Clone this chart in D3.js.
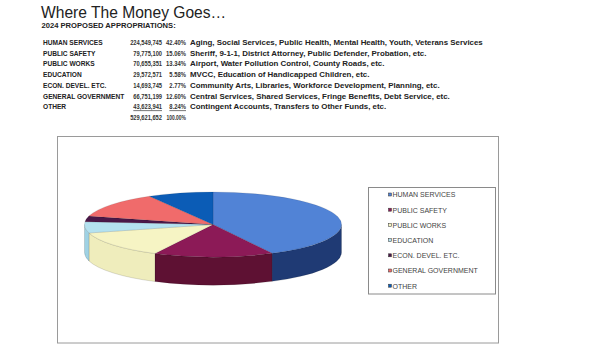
<!DOCTYPE html>
<html>
<head>
<meta charset="utf-8">
<script src="https://cdn.jsdelivr.net/npm/d3@7/dist/d3.min.js"></script>
<style>
  html, body { margin: 0; padding: 0; background: #fff; }
  svg { display: block; font-family: "Liberation Sans", Arial, sans-serif; }
</style>
</head>
<body>
<svg id="chart" width="600" height="351"></svg>
<script>
// ---- data ----
const categories = ["HUMAN SERVICES", "PUBLIC SAFETY", "PUBLIC WORKS", "EDUCATION",
                    "ECON. DEVEL. ETC.", "GENERAL GOVERNMENT", "OTHER"];
const amounts = [224549745, 79775100, 70655351, 29572571, 14693745, 66751199, 43623941];
const percentLabels = ["42.40%", "15.06%", "13.34%", "5.58%", "2.77%", "12.60%", "8.24%"];
const descriptions = [
  "Aging, Social Services, Public Health, Mental Health, Youth, Veterans Services",
  "Sheriff, 9-1-1, District Attorney, Public Defender, Probation, etc.",
  "Airport, Water Pollution Control, County Roads, etc.",
  "MVCC, Education of Handicapped Children, etc.",
  "Community Arts, Libraries, Workforce Development, Planning, etc.",
  "Central Services, Shared Services, Fringe Benefits, Debt Service, etc.",
  "Contingent Accounts, Transfers to Other Funds, etc."
];
const totalLabel = "529,621,652";
const totalPercent = "100.00%";
const topColors  = ["#5183d6", "#8c1a57", "#f6f4c4", "#b4e2f0", "#4a1848", "#f06b6b", "#0b5cb6"];
const sideColors = ["#1f3a74", "#5e1133", "#efedbc", "#9fd2e4", "#3a1238", "#c85050", "#083f80"];

const svg = d3.select("#chart");
const fmt = d3.format(",");

// ---- title ----
svg.append("text").attr("x", 41).attr("y", 17.5)
  .attr("font-size", 15.6).attr("fill", "#222").text("Where The Money Goes\u2026");
svg.append("text").attr("x", 41.5).attr("y", 28)
  .attr("font-size", 7.6).attr("font-weight", "bold").attr("fill", "#222")
  .text("2024 PROPOSED APPROPRIATIONS:");

// ---- table ----
const rowY = d3.scaleLinear().domain([0, 1]).range([44.8, 55.56]);
const tbl = svg.append("g").attr("font-size", 6.6).attr("font-weight", "bold").attr("fill", "#222");
const names = tbl.append("g");
const nums = tbl.append("g").attr("transform", "translate(162,0) scale(0.87,1)");
const pcts = tbl.append("g").attr("transform", "translate(186,0) scale(0.89,1)");
const descs = tbl.append("g").attr("transform", "translate(190,0) scale(1.2,1)");
const last = categories.length - 1;
categories.forEach((c, i) => {
  const y = rowY(i);
  names.append("text").attr("x", 43).attr("y", y).text(c);
  nums.append("text").attr("x", 0).attr("y", y).attr("text-anchor", "end")
    .attr("fill", "#333").text(fmt(amounts[i]))
    .attr("text-decoration", i === last ? "underline" : null);
  pcts.append("text").attr("x", 0).attr("y", y).attr("text-anchor", "end")
    .attr("fill", "#333").text(percentLabels[i])
    .attr("text-decoration", i === last ? "underline" : null);
  descs.append("text").attr("x", 0).attr("y", y).text(descriptions[i]);
});
nums.append("text").attr("x", 0).attr("y", rowY(categories.length)).attr("text-anchor", "end")
  .attr("fill", "#333").text(totalLabel);
pcts.append("text").attr("x", 0).attr("y", rowY(categories.length)).attr("text-anchor", "end")
  .attr("fill", "#333").attr("textLength", 22).attr("lengthAdjust", "spacingAndGlyphs")
  .text(totalPercent);

// ---- chart frame ----
svg.append("rect").attr("x", 57.5).attr("y", 136.5).attr("width", 441).attr("height", 206.5)
  .attr("fill", "#fff").attr("stroke", "#9a9a9a").attr("stroke-width", 1);

// ---- 3D pie ----
const cx = 213, cy = 224.5, rx = 128.5, ry = 32.5, depth = 28;
const pie = d3.pie().sort(null).value(d => d)(amounts);
const pt = (a, dy = 0) => [cx + rx * Math.sin(a), cy - ry * Math.cos(a) + dy];

const gPie = svg.append("g");
// sides (front half only)
pie.forEach((s, i) => {
  const a0 = Math.max(s.startAngle, Math.PI / 2);
  const a1 = Math.min(s.endAngle, 3 * Math.PI / 2);
  if (a0 >= a1) return;
  const p0 = pt(a0), p1 = pt(a1), q1 = pt(a1, depth), q0 = pt(a0, depth);
  const d = `M${p0}A${rx},${ry} 0 0 1 ${p1}L${q1}A${rx},${ry} 0 0 0 ${q0}Z`;
  gPie.append("path").attr("d", d).attr("fill", sideColors[i])
    .attr("stroke", "rgba(0,0,0,0.25)").attr("stroke-width", 0.5);
});
// tops
pie.forEach((s, i) => {
  const p0 = pt(s.startAngle), p1 = pt(s.endAngle);
  const large = (s.endAngle - s.startAngle) > Math.PI ? 1 : 0;
  const d = `M${cx},${cy}L${p0}A${rx},${ry} 0 ${large} 1 ${p1}Z`;
  gPie.append("path").attr("d", d).attr("fill", topColors[i])
    .attr("stroke", "rgba(0,0,0,0.25)").attr("stroke-width", 0.4);
});

// ---- legend ----
svg.append("rect").attr("x", 368.5).attr("y", 187.5).attr("width", 127).attr("height", 106.5)
  .attr("fill", "#fff").attr("stroke", "#8a8a8a").attr("stroke-width", 1);
const legY = d3.scaleLinear().domain([0, 1]).range([194.8, 210]);
const leg = svg.append("g").attr("font-size", 7).attr("fill", "#444");
categories.forEach((c, i) => {
  const y = legY(i);
  leg.append("rect").attr("x", 388.5).attr("y", y - 1.8).attr("width", 3).attr("height", 3)
    .attr("fill", topColors[i]).attr("stroke", "#333").attr("stroke-width", 0.5);
  leg.append("text").attr("x", 392.5).attr("y", y + 2.5).text(c);
});
</script>
</body>
</html>
